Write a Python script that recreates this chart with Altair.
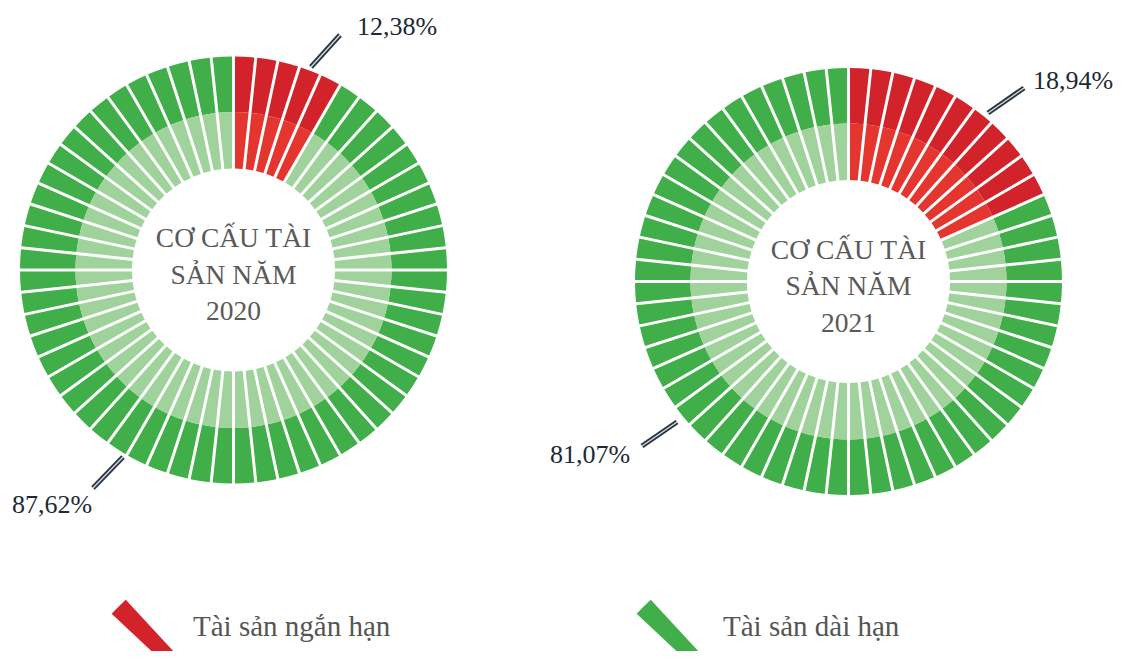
import math
import altair as alt
import pandas as pd

# ---------------- data ----------------
YEARS = ["2020", "2021"]
TOTAL_SEGMENTS = 60
SHORT_SEGMENTS = [5, 11]            # red segments drawn in each ring
SHORT_PCT = ["12,38%", "18,94%"]
LONG_PCT = ["87,62%", "81,07%"]
TITLE_LINES = ["CƠ CẤU TÀI", "SẢN NĂM"]
LEGEND = ["Tài sản ngắn hạn", "Tài sản dài hạn"]

# ---------------- layout / style ----------------
W, H = 1106, 643
CENTERS = [(225.5, 262.0), (840.5, 273.5)]
R_IN, R_MID, R_OUT = 101.5, 158.0, 213.5
GAP = 3.0
FONT = "Liberation Serif"
COLORS = {
    (LEGEND[0], "outer"): "#d2232b",
    (LEGEND[0], "inner"): "#e5352f",
    (LEGEND[1], "outer"): "#40ae49",
    (LEGEND[1], "inner"): "#a0d29b",
}

seg_rows = []
for k, year in enumerate(YEARS):
    cx, cy = CENTERS[k]
    for i in range(TOTAL_SEGMENTS):
        part = LEGEND[0] if i < SHORT_SEGMENTS[k] else LEGEND[1]
        for ring in ["outer", "inner"]:
            seg_rows.append(dict(year=year, i0=i, i1=i + 1, part=part, ring=ring,
                                 key=part + "|" + ring, cx=cx, cy=cy))
seg = pd.DataFrame(seg_rows)
keys = [p + "|" + r for (p, r) in COLORS]
color_scale = alt.Scale(domain=keys, range=[COLORS[k] for k in COLORS])

theta_scale = alt.Scale(domain=[0, TOTAL_SEGMENTS], range=[0, 2 * math.pi])

base_seg = alt.Chart(seg).encode(
    x=alt.X("cx:Q", scale=None, axis=None),
    y=alt.Y("cy:Q", scale=None, axis=None),
    theta=alt.Theta("i0:Q", scale=theta_scale),
    theta2=alt.Theta2("i1:Q"),
    color=alt.Color("key:N", scale=color_scale, legend=None),
)
pad_out = GAP / math.sqrt(R_MID ** 2 + R_OUT ** 2)
pad_in = GAP / math.sqrt(R_IN ** 2 + R_MID ** 2)
outer = base_seg.mark_arc(innerRadius=R_MID, outerRadius=R_OUT, padAngle=pad_out).transform_filter(
    alt.datum.ring == "outer")
inner = base_seg.mark_arc(innerRadius=R_IN, outerRadius=R_MID, padAngle=pad_in).transform_filter(
    alt.datum.ring == "inner")

# centre titles
title_rows = []
for k, year in enumerate(YEARS):
    cx, cy = CENTERS[k]
    for j, line in enumerate(TITLE_LINES + [year]):
        title_rows.append(dict(text=line, x=cx, y=cy - 23 + 36.5 * j))
titles = alt.Chart(pd.DataFrame(title_rows)).mark_text(
    font=FONT, fontSize=27.5, color="#5a5a5a", align="center", baseline="alphabetic"
).encode(x=alt.X("x:Q", scale=None), y=alt.Y("y:Q", scale=None), text="text:N")

# percentage labels with double leader lines
LABEL_POS = [(349, 27), (4, 505), (1025, 81), (542, 455)]
LEADERS = [((303, 59), (332, 27)), ((115, 449), (85, 480)),
           ((980, 105), (1016, 80)), ((669, 414), (634, 438))]
lab_text = [SHORT_PCT[0], LONG_PCT[0], SHORT_PCT[1], LONG_PCT[1]]
lab_rows = []
for t, (lx, ly), ((ax, ay), (bx, by)) in zip(lab_text, LABEL_POS, LEADERS):
    lab_rows.append(dict(text=t, x=lx, y=ly, ax=ax, ay=ay, bx=bx, by=by))
lab = pd.DataFrame(lab_rows)
labels = alt.Chart(lab).mark_text(
    font=FONT, fontSize=26, color="#1d2935", align="left", baseline="alphabetic"
).encode(x=alt.X("x:Q", scale=None), y=alt.Y("y:Q", scale=None), text="text:N")
lead_enc = dict(x=alt.X("ax:Q", scale=None), y=alt.Y("ay:Q", scale=None),
                x2=alt.X2("bx:Q"), y2=alt.Y2("by:Q"))
lead_dark = alt.Chart(lab).mark_rule(color="#2a3642", strokeWidth=5).encode(**lead_enc)
lead_light = alt.Chart(lab).mark_rule(color="#d8dde2", strokeWidth=1.3).encode(**lead_enc)

# legend
leg = pd.DataFrame(dict(
    part=LEGEND,
    key=[LEGEND[0] + "|outer", LEGEND[1] + "|outer"],
    wx=[306, 831], wy=[795, 795],
    tx=[185, 715], ty=[628, 628],
))
leg_wedge = alt.Chart(leg).mark_arc(
    innerRadius=0, outerRadius=277, theta=5.464, theta2=5.536
).encode(
    x=alt.X("wx:Q", scale=None), y=alt.Y("wy:Q", scale=None),
    color=alt.Color("key:N", scale=color_scale, legend=None),
)
leg_text = alt.Chart(leg).mark_text(
    font=FONT, fontSize=29, color="#555555", align="left", baseline="alphabetic"
).encode(x=alt.X("tx:Q", scale=None), y=alt.Y("ty:Q", scale=None), text="part:N")

chart = alt.layer(
    outer, inner, titles, lead_dark, lead_light, labels, leg_wedge, leg_text
).properties(
    width=W, height=H, padding=0, autosize=alt.AutoSizeParams(type="none")
).configure_view(strokeWidth=0)

chart.save("out.html", embed_options={"renderer": "svg", "actions": False})
